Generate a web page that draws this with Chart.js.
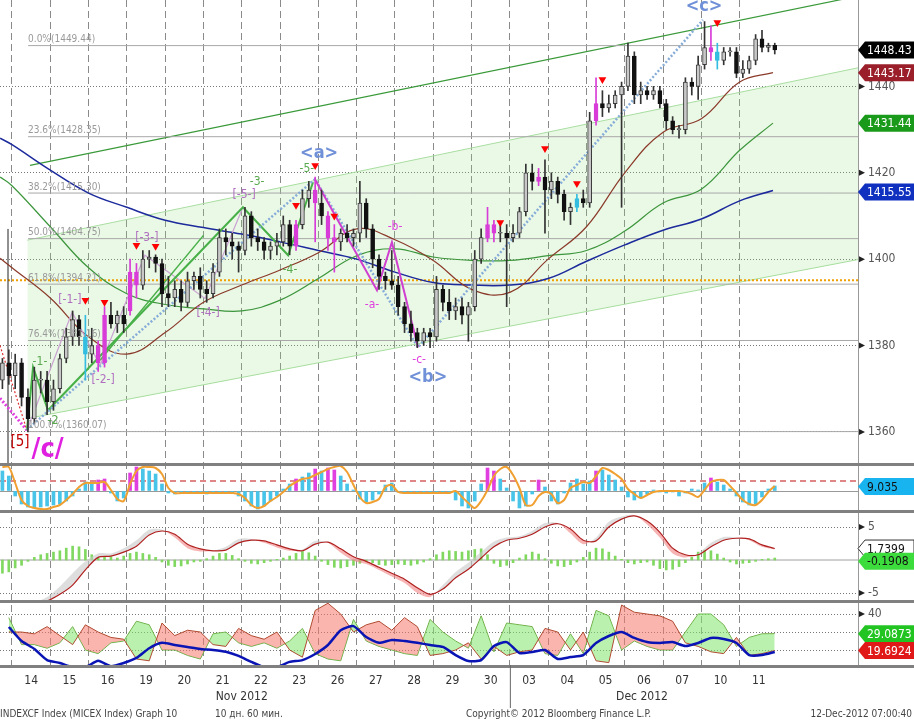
<!DOCTYPE html>
<html>
<head>
<meta charset="utf-8">
<script src="https://cdn.jsdelivr.net/npm/chart.js@4.4.1/dist/chart.umd.min.js"></script>
<style>
  html, body { margin: 0; padding: 0; background: #fff; }
  #wrap { position: relative; width: 914px; height: 723px; }
</style>
</head>
<body>
<div id="wrap"><canvas id="chart" width="914" height="723"></canvas></div>
<script>
const FONT = '"DejaVu Sans Condensed", "Liberation Sans Narrow", "DejaVu Sans", sans-serif';

// --- data, 13 Nov - 11 Dec 2012 ---
const dayLabels = ['14','15','16','19','20','21','22','23','26','27','28','29','30','03','04','05','06','07','10','11'];
const monthLabels = ['Nov 2012', 'Dec 2012'];
const monthCenters = [6.0, 16.45];
const barsPerDay = 6;
const leadBars = 2; // last bars of 13 Nov at the left edge

const opens = [1372,1376,
  1373,1376,1368,1363,1372,1372, 1367,1370,1377,1382,1386,1382, 1378,1380,1376,1387,1385,1387,
  1388,1397,1394,1400,1400.5,1399, 1392,1391,1393,1390,1395,1396, 1393,1392,1397,1405,1404,1403,
  1402,1410,1405,1404,1402,1403, 1404,1408,1403,1408,1414,1416, 1413,1410,1405,1404,1406,1405,
  1406,1413,1407,1400,1396,1395, 1394,1389,1385,1383,1381,1383, 1382,1393,1390,1388,1389,1387,
  1389,1400,1405,1408,1406,1406, 1405,1406,1411,1420,1418,1419, 1416,1418,1415,1411,1412,1414,
  1413,1432,1436,1435,1436,1438, 1440,1447,1438,1439,1438,1439, 1436,1432,1430,1430,1441,1440,
  1445,1449,1448,1446,1448,1448, 1443,1444,1446,1451,1449,1449.5];
const highs = [1377,1379,
  1378,1377,1370,1375,1374,1374, 1372,1378,1384,1388,1387,1387, 1384,1381,1389,1390,1388,1389,
  1400,1399,1402,1402,1401,1400, 1396,1395,1395,1397,1397,1398, 1395,1399,1407,1407,1406,1404,
  1412,1411,1407,1405,1404,1406, 1410,1409,1409,1416,1418,1419, 1416,1411,1408,1407,1408,1407,
  1418,1414,1408,1401,1397,1402, 1396,1390,1388,1384,1384,1384, 1396,1394,1393,1391,1391,1390,
  1402,1407,1412,1409,1408,1408, 1408,1412,1422,1422,1421,1423, 1420,1419,1416,1413,1415,1416,
  1434,1442,1439,1438,1439,1441, 1450,1448,1441,1440,1440,1440, 1437,1433,1431,1442,1442,1447,
  1455,1454,1450,1449,1449,1449, 1446,1447,1452,1453,1450,1450];
const lows = [1370,1371,
  1370,1366,1360,1362,1369,1364, 1365,1369,1376,1380,1380,1372, 1376,1374,1375,1384,1383,1383,
  1387,1391,1393,1398,1397,1389, 1389,1389,1388,1389,1393,1391, 1390,1391,1396,1401,1400,1397,
  1401,1403,1402,1400,1400,1401, 1403,1401,1402,1407,1412,1404, 1408,1402,1397,1402,1404,1403,
  1404,1405,1398,1393,1393,1393, 1387,1383,1381,1379.5,1380,1379.5, 1381,1388,1386,1386,1385,1381,
  1388,1399,1404,1404,1404,1389, 1404,1405,1410,1416,1417,1406, 1414,1413,1409,1408,1411,1412,
  1412,1431,1433,1434,1435,1412, 1439,1436,1436,1437,1437,1435, 1430,1429,1428,1429,1438,1437,
  1444,1446,1444,1445,1447,1442, 1442,1443,1445,1448,1448,1447.5];
const closes = [1376,1373,
  1376,1368,1363,1372,1372,1367, 1370,1377,1382,1386,1382,1378, 1380,1376,1387,1385,1387,1385,
  1397,1394,1400,1400.5,1399,1392, 1391,1393,1390,1395,1396,1393, 1392,1397,1405,1404,1403,1402,
  1410,1405,1404,1402,1403,1404, 1408,1403,1408,1414,1416,1413, 1410,1405,1404,1406,1405,1406,
  1413,1407,1400,1396,1395,1394, 1389,1385,1383,1381,1383,1382, 1393,1390,1388,1389,1387,1389,
  1400,1405,1408,1406,1406,1405, 1406,1411,1420,1418,1419,1416, 1418,1415,1411,1412,1414,1413,
  1432,1436,1435,1436,1438,1440, 1447,1438,1439,1438,1439,1436, 1432,1430,1430,1441,1440,1445,
  1449,1448,1446,1448,1448,1443, 1444,1446,1451,1449,1449.5,1448.43];

const magentaBars = [15,16,20,21,46,49,51,52,76,77,84,93,111];
const cyanBars = [13,90,112];
const signalBars = [13,16,21,24,46,49,52,78,85,90,94,112];
const signalPrices = [1390.5,1390,1403.2,1403,1412.5,1421.7,1410,1408.5,1425.6,1417.5,1441.6,1454.8];

// moving averages, sampled once a day
const maDays = [-0.31,0,1,2,3,4,5,6,7,8,9,10,11,12,13,14,15,16,17,18,19,19.87];
const maShort = [1400.2,1398,1391,1382,1378,1383,1390,1394,1397.5,1401.5,1407,1404.5,1399.7,1393,1392.3,1400,1407.5,1420,1429.4,1432.5,1441,1443.2];
const maMid = [1419,1417,1407.5,1398,1392,1389.5,1388.5,1388,1390.5,1395.5,1400.8,1402.4,1400.5,1399.7,1399.7,1400.8,1402,1406.5,1413,1416.2,1425.2,1431.5];
const maLong = [1428,1426.5,1420.6,1415.3,1412,1409,1407.3,1405.8,1404,1402,1400,1397,1394.6,1394,1394,1395.5,1399.5,1403.3,1406.7,1409.3,1413.5,1415.9];

const fibPcts = ['0.0%','23.6%','38.2%','50.0%','61.8%','76.4%','100.0%'];
const fibLevels = [1449.44,1428.35,1415.30,1404.75,1394.21,1381.16,1360.07];
const pivotLevel = 1395.1;

// wave drawings, [day, price]
const waveABC = [[7.91,1418.5],[9.53,1392.8],[9.92,1403.9],[10.6,1379.6]];
const waveBig = [[0.39,1360.5],[7.91,1418.5],[10.6,1379.6],[18.04,1455.4]];
const waveGreen = [[0.39,1360.4],[0.55,1375],[0.94,1365],[6.03,1412],[7.21,1400.9],[7.86,1417.8]];
const waveGreenPar = [[2.3,1376.6],[5.0,1405.5]];
const waveSub = [[0.39,1360.4],[1.57,1387.7],[2.3,1375.4],[3.47,1400.9],[5.04,1390.9],[6.03,1412]];
const leftRed = [[-0.313,1380],[0.39,1360.4]];
const leftMagenta = [[-0.313,1367.8],[0.39,1360.4]];
const channelTop = [[0.47,1421.7],[22.09,1460.9]];
const channelHi = [[0.4,1404.4],[22.09,1444.3]];
const channelLo = [[0.4,1363.1],[22.09,1399.9]];

// oscillator panel (per bar)
const oscHist = [40,30,-10,-26,-32,-34,-32,-30,-28,-26, -20,-10,4,18,16,22,24,-4,-20,-14,
  36,48,44,40,34,14,-4,-6,-4,-2, -4,-2,-6,-4,-2,-2,-4,-10,-20,-30,
  -36,-30,-20,-10,4,14,24,28,36,44, 40,46,42,30,14,2,-16,-22,-18,-6,
  12,16,-2,-4,-2,-2,-4,-2,-2,-4, -4,-18,-30,-34,-20,14,46,40,24,6,
  -20,-34,-30,-6,22,8,-20,-26,-4,16, 24,14,20,40,42,32,22,8,-12,-18,
  -14,-6,2,-2,-4,-2,-10,-4,4,2, 16,26,18,12,4,-10,-22,-28,-26,-12, 4,10];
const oscLine = [48,48,16,-18,-30,-34,-36,-36,-32,-28, -18,-6,8,16,16,16,18,2,-16,-20,
  14,40,48,48,46,34,6,-4,-4,-4, -4,-4,-4,-4,-4,-4,-4,-6,-14,-28,
  -34,-30,-20,-12,-2,10,18,24,26,32, 38,44,48,50,38,12,-12,-24,-22,-16,
  8,12,-2,-4,-4,-4,-4,-4,-4,-4, -4,0,-12,-24,-34,-20,2,30,44,48,
  32,6,-28,-28,-10,-2,-6,-24,-18,6, 12,18,16,30,46,42,34,24,4,-6,
  -14,-8,-2,0,0,0,0,-2,-6,-12, 2,18,22,22,10,-4,-18,-26,-28,-18, -2,10];
const oscLevel = 20;

// MACD panel
const macdHist = [-2.0,-1.8,-1.2,-0.8,-0.2,0.4,0.8,1.0,1.2,1.4, 1.8,2.1,2.0,1.6,0.8,0.3,0.4,0.5,0.3,0.6,
  1.0,1.2,1.0,0.8,0.4,-0.3,-0.8,-1.0,-0.9,-0.6, -0.3,-0.2,0.2,0.6,1.0,1.0,0.7,0.2,-0.2,-0.5,
  -0.6,-0.4,-0.2,0.1,0.3,0.6,1.0,1.3,1.1,0.6, -0.2,-0.7,-1.1,-1.2,-1.0,-0.8,-0.5,-0.2,-0.4,-0.7,
  -0.8,-0.7,-0.6,-0.7,-0.8,-0.6,-0.3,0.2,0.8,1.2, 1.4,1.3,1.2,1.4,1.6,1.7,0.8,-0.5,-1.0,-0.8,
  -0.4,0.3,0.8,1.2,0.9,0.2,-0.5,-0.9,-1.0,-0.7, -0.3,0.4,1.2,1.8,1.7,1.2,0.6,0.1,-0.4,-0.6,
  -0.4,-0.3,-0.8,-1.3,-1.5,-1.4,-1.0,-0.4,0.4,1.2, 1.5,1.4,0.9,0.3,-0.3,-0.6,-0.5,-0.4,-0.2,0.1, 0.2,0.3];
// lines below are sampled every second bar
const macdLine = [-6.4,-6.4,-6.4,-6.2,-5.2,-3.8,-1.5,0.4,0.6,1.2, 2.1,3.8,4.4,3.9,2.4,1.7,1.4,1.5,2.6,3.0,
  2.9,2.3,1.7,1.4,2.4,2.7,1.7,0.5,-0.2,-1.1, -2.0,-2.9,-4.2,-5.2,-4.4,-2.7,-1.4,0.3,2.0,3.0,
  3.3,3.9,5.0,5.5,4.7,3.0,2.9,5.0,6.2,6.7, 5.9,4.2,1.8,0.8,0.8,2.0,3.0,3.3,3.2,2.3, 1.74];
const macdFast = [-6.4,-6.4,-6.4,-5.6,-4.0,-2.0,-0.2,1.0,1.0,1.8, 3.0,4.6,4.6,3.4,1.8,1.3,1.4,2.0,3.2,3.2,
  2.6,1.9,1.4,1.6,2.9,2.6,1.1,-0.1,-0.6,-1.5, -2.5,-3.5,-5.0,-5.6,-3.8,-1.8,-0.4,1.2,2.8,3.4,
  3.6,4.4,5.6,5.6,4.0,2.4,3.4,5.8,6.6,6.8, 5.4,3.4,1.0,0.4,1.0,2.6,3.5,3.4,3.0,2.0, 1.6];

// DMI panel
const dmiMinus = [30,30,29,33,28,23,34,30,27,26, 15,14,35,28,31,30,23,22,32,28,
  26,30,20,16,42,46,40,30,34,36, 31,38,33,17,18,20,24,15,22,17,
  19,20,32,30,20,30,14,13,45,41, 40,39,36,24,22,19,18,27,17,18, 19.69];
const dmiPlus = [38,23,23,21,24,33,20,18,24,25, 36,34,20,20,17,15,29,30,24,22,
  24,21,25,32,18,15,14,37,25,22, 20,18,17,37,30,25,21,39,19,35,
  34,33,18,17,29,18,42,39,20,25, 22,20,20,30,40,40,34,22,27,29, 29.09];
const adx = [32.8,25,20.6,14.4,12.8,10.5,10.5,14,11,12.8, 15.6,21,24,22.8,21.7,20.6,20,19,16.7,13.4,
  10.5,10.5,13.4,14.4,17.8,22.8,31,33.3,27.2,24, 25.6,25,24,22.8,21.7,17.2,13.9,14.4,22.2,24.4,
  18.3,18.9,20,15,16.1,17.2,23.9,27.8,30,26.7, 24.4,23.9,24.4,22.2,23.9,26.7,26.1,23.9,17.2,17.2, 18.9];

const priceTags = [1448.43, 1443.17, 1431.44, 1415.55];
const oscTag = 9.035;
const macdTags = [1.7399, -0.1908];
const dmiTags = [29.0873, 19.6924];

// --- chart ---
const X_MIN = -0.313, X_MAX = 22.09;
const barX = k => (k - leadBars + 0.5) / barsPerDay;
const lineX = j => barX(2 * j + 1);

const waveLabels = [
  { t: '[5]', d: 0.21, p: 1357.6, c: '#c00000', f: '15px ' + FONT },
  { t: '/c/', d: 0.93, p: 1355.7, c: '#e020e0', f: 'bold 27px ' + FONT },
  { t: '-1-', d: 0.73, p: 1376.1, c: '#5aaa50', f: '12px ' + FONT },
  { t: '-2', d: 1.07, p: 1362.7, c: '#5aaa50', f: '13px ' + FONT },
  { t: '[-1-]', d: 1.51, p: 1390.5, c: '#b070c0', f: '12px ' + FONT },
  { t: '[-2-]', d: 2.38, p: 1372, c: '#b070c0', f: '12px ' + FONT },
  { t: '[-3-]', d: 3.52, p: 1405, c: '#b070c0', f: '12px ' + FONT },
  { t: '[-4-]', d: 5.12, p: 1387.5, c: '#b070c0', f: '12px ' + FONT },
  { t: '[-5-]', d: 6.06, p: 1414.8, c: '#b070c0', f: '12px ' + FONT },
  { t: '-3-', d: 6.4, p: 1417.8, c: '#5aaa50', f: '12px ' + FONT },
  { t: '-4-', d: 7.26, p: 1397.4, c: '#5aaa50', f: '12px ' + FONT },
  { t: '-5-', d: 7.7, p: 1421, c: '#5aaa50', f: '12px ' + FONT },
  { t: '<a>', d: 8.02, p: 1424.5, c: '#7090d8', f: 'bold 18px ' + FONT },
  { t: '-a-', d: 9.4, p: 1389.3, c: '#e040e0', f: '12px ' + FONT },
  { t: '-b-', d: 10.0, p: 1407.4, c: '#e040e0', f: '12px ' + FONT },
  { t: '-c-', d: 10.63, p: 1376.6, c: '#e040e0', f: '12px ' + FONT },
  { t: '<b>', d: 10.86, p: 1372.6, c: '#7090d8', f: 'bold 18px ' + FONT },
  { t: '<c>', d: 18.07, p: 1458.5, c: '#7090d8', f: 'bold 18px ' + FONT }
];

function pts(list) { return list.map(p => ({ x: p[0], y: p[1] })); }
function lineDs(data, color, width, dash, yAxisID, extra) {
  return Object.assign({ type: 'line', data, borderColor: color, borderWidth: width,
    borderDash: dash || [], pointRadius: 0, fill: false, tension: 0, yAxisID }, extra || {});
}
function hline(y, color, width, dash, yAxisID, x0) {
  return lineDs([{ x: x0 === undefined ? X_MIN : x0, y }, { x: X_MAX, y }], color, width, dash, yAxisID);
}

const candleIdx = closes.map((c, k) => k);
const barColor = k => magentaBars.includes(k) ? '#d83cd8' : cyanBars.includes(k) ? '#33bde0' : null;

const datasets = [];
datasets.push({
  type: 'line', yAxisID: 'yMain', showLine: false,
  data: signalBars.map((k, i) => ({ x: barX(k), y: signalPrices[i] })),
  pointStyle: 'triangle', rotation: 180, pointRadius: 4.5, borderWidth: 0,
  pointBackgroundColor: '#ff0000', backgroundColor: '#ff0000'
});
datasets.push({
  type: 'bar', yAxisID: 'yMain', grouped: false, barThickness: 4, minBarLength: 1, borderSkipped: false,
  data: candleIdx.map(k => ({ x: barX(k), y: [Math.min(opens[k], closes[k]), Math.max(opens[k], closes[k])] })),
  backgroundColor: candleIdx.map(k => barColor(k) || (closes[k] >= opens[k] ? '#c8c8c8' : '#111')),
  borderColor: candleIdx.map(k => barColor(k) || (closes[k] >= opens[k] ? '#3a3a3a' : '#111')),
  borderWidth: 1
});
datasets.push({
  type: 'bar', yAxisID: 'yMain', grouped: false, barThickness: 1, borderSkipped: false,
  data: candleIdx.map(k => ({ x: barX(k), y: [lows[k], highs[k]] })),
  backgroundColor: candleIdx.map(k => barColor(k) || '#333')
});
datasets.push(lineDs(pts(waveABC), '#d040d0', 2, [], 'yMain'));
datasets.push(lineDs(pts(waveBig), '#86acd8', 2.5, [2, 2], 'yMain'));
datasets.push(lineDs(pts(waveGreen), '#48b048', 2, [], 'yMain'));
datasets.push(lineDs(pts(waveGreenPar), '#48b048', 1.5, [], 'yMain'));
datasets.push(lineDs(pts(waveSub), '#caa2d2', 1.2, [], 'yMain'));
datasets.push(lineDs(pts(leftRed), '#e03030', 1.2, [2, 2], 'yMain'));
datasets.push(lineDs(pts(leftMagenta), '#e040e0', 3, [2, 2], 'yMain'));
datasets.push(lineDs(maDays.map((d, i) => ({ x: d, y: maShort[i] })), '#8b3a2a', 1.2, [], 'yMain', { tension: 0.4 }));
datasets.push(lineDs(maDays.map((d, i) => ({ x: d, y: maMid[i] })), '#3c963c', 1.2, [], 'yMain', { tension: 0.4 }));
datasets.push(lineDs(maDays.map((d, i) => ({ x: d, y: maLong[i] })), '#1c2a9c', 1.5, [], 'yMain', { tension: 0.4 }));
datasets.push(lineDs([{ x: -0.104, y: 1352.8 }, { x: -0.104, y: 1407 }], '#222', 1, [], 'yMain'));
datasets.push(hline(pivotLevel, '#f0a000', 2, [2, 2], 'yMain'));
fibLevels.forEach(v => datasets.push(hline(v, '#a8a8a8', 1, [], 'yMain', 0.42)));
datasets.push(lineDs(pts(channelTop), '#3a9a3a', 1.2, [], 'yMain'));
const chHi = lineDs(pts(channelHi), '#a8dea0', 1, [], 'yMain');
const chLo = lineDs(pts(channelLo), '#a8dea0', 1, [], 'yMain');
datasets.push(chHi, chLo);
chHi.fill = { target: datasets.indexOf(chLo), above: 'rgba(150,220,130,0.2)', below: 'rgba(150,220,130,0.2)' };

// oscillator
datasets.push(lineDs(oscLine.map((v, k) => ({ x: barX(k), y: v })), '#f0a030', 2, [], 'yOsc', { tension: 0.3 }));
datasets.push({
  type: 'bar', yAxisID: 'yOsc', grouped: false, barThickness: 3,
  data: oscHist.map((v, k) => ({ x: barX(k), y: v })),
  backgroundColor: oscHist.map((v, k) => magentaBars.includes(k) ? '#e040e0' : '#48c4e8')
});
datasets.push(hline(oscLevel, '#c01010', 1.2, [6, 4], 'yOsc'));

// macd
const mLine = lineDs(macdLine.map((v, j) => ({ x: lineX(j), y: v })), '#b02020', 1.2, [], 'yMacd', { tension: 0.3 });
const mFast = lineDs(macdFast.map((v, j) => ({ x: lineX(j), y: v })), 'rgba(0,0,0,0)', 0, [], 'yMacd', { tension: 0.3 });
datasets.push(mLine, mFast);
mFast.fill = { target: datasets.indexOf(mLine), above: 'rgba(200,200,200,0.6)', below: 'rgba(240,130,130,0.6)' };
datasets.push({
  type: 'bar', yAxisID: 'yMacd', grouped: false, barThickness: 2,
  data: macdHist.map((v, k) => ({ x: barX(k), y: v })),
  backgroundColor: '#80d860'
});
datasets.push(hline(0, '#a0a0a0', 1, [], 'yMacd'));

// dmi
datasets.push(lineDs(adx.map((v, j) => ({ x: lineX(j), y: v })), '#0a14b4', 2.5, [], 'yDmi', { tension: 0.2 }));
const dMinus = lineDs(dmiMinus.map((v, j) => ({ x: lineX(j), y: v })), '#b04a30', 1, [], 'yDmi');
const dPlus = lineDs(dmiPlus.map((v, j) => ({ x: lineX(j), y: v })), '#60b040', 1, [], 'yDmi');
datasets.push(dMinus, dPlus);
dMinus.fill = { target: datasets.indexOf(dPlus), above: 'rgba(245,120,110,0.55)', below: 'rgba(130,230,110,0.55)' };

const numLabel = v => String(v);
const noPad = s => { s.paddingTop = 0; s.paddingBottom = 0; s.paddingLeft = 0; s.paddingRight = 0; };
const yWidth = s => { s.width = 56; noPad(s); };
const tickFont = { size: 12, family: FONT };

const panelClip = {
  id: 'panelClip',
  beforeDatasetDraw(chart, args) {
    const ys = chart.scales[args.meta.yAxisID];
    const a = chart.chartArea;
    chart.ctx.save();
    chart.ctx.beginPath();
    chart.ctx.rect(a.left, ys.top, a.right - a.left, ys.bottom - ys.top);
    chart.ctx.clip();
  },
  afterDatasetDraw(chart) { chart.ctx.restore(); }
};

function tag(ctx, y, text, bg, fg, edge) {
  const x0 = 858, h = 17;
  ctx.beginPath();
  ctx.moveTo(x0, y);
  ctx.lineTo(x0 + 7, y - h / 2);
  ctx.lineTo(914, y - h / 2);
  ctx.lineTo(914, y + h / 2);
  ctx.lineTo(x0 + 7, y + h / 2);
  ctx.closePath();
  ctx.fillStyle = bg;
  ctx.fill();
  if (edge) { ctx.strokeStyle = edge; ctx.lineWidth = 1; ctx.stroke(); }
  ctx.fillStyle = fg;
  ctx.font = '12px ' + FONT;
  ctx.textAlign = 'left';
  ctx.textBaseline = 'middle';
  ctx.fillText(text, x0 + 9, y + 1);
}

const decor = {
  id: 'decor',
  afterDatasetsDraw(chart) {
    const ctx = chart.ctx, xs = chart.scales.x, ym = chart.scales.yMain;
    ctx.save();
    // fib labels
    ctx.font = '10px ' + FONT;
    ctx.fillStyle = '#9a9a9a';
    ctx.textAlign = 'left';
    ctx.textBaseline = 'bottom';
    fibLevels.forEach((v, i) => {
      ctx.fillText(fibPcts[i] + '(' + v.toFixed(2) + ')', xs.getPixelForValue(0.42), ym.getPixelForValue(v) - 1);
    });
    ctx.textAlign = 'center';
    ctx.textBaseline = 'middle';
    waveLabels.forEach(l => {
      ctx.font = l.f;
      ctx.fillStyle = l.c;
      ctx.fillText(l.t, xs.getPixelForValue(l.d), ym.getPixelForValue(l.p));
    });
    ctx.restore();
  },
  afterDraw(chart) {
    const ctx = chart.ctx, s = chart.scales;
    ctx.save();
    // panel separators
    ctx.fillStyle = '#808080';
    [s.yOsc.top, s.yMacd.top, s.yDmi.top, s.yDmi.bottom].forEach(t => ctx.fillRect(0, t, 914, 3));
    // tick arrows
    ctx.fillStyle = '#222';
    ['yMain', 'yMacd', 'yDmi'].forEach(id => {
      s[id].ticks.forEach(t => {
        if (!t.label) return;
        const y = s[id].getPixelForValue(t.value);
        ctx.beginPath();
        ctx.moveTo(859, y - 3); ctx.lineTo(865, y); ctx.lineTo(859, y + 3);
        ctx.closePath(); ctx.fill();
      });
    });
    // value tags
    const tagColors = [['#000', '#fff'], ['#9a1f2a', '#fff'], ['#1a9a1a', '#fff'], ['#1030c0', '#fff']];
    priceTags.forEach((v, i) => tag(ctx, s.yMain.getPixelForValue(v), v.toFixed(2), tagColors[i][0], tagColors[i][1]));
    tag(ctx, s.yOsc.getPixelForValue(oscTag), String(oscTag), '#18b4f0', '#111');
    tag(ctx, s.yMacd.getPixelForValue(macdTags[0]), String(macdTags[0]), '#fff', '#111', '#333');
    tag(ctx, s.yMacd.getPixelForValue(macdTags[1]), String(macdTags[1]), '#3ddc3d', '#111');
    tag(ctx, s.yDmi.getPixelForValue(dmiTags[0]), String(dmiTags[0]), '#22c422', '#fff');
    tag(ctx, s.yDmi.getPixelForValue(dmiTags[1]), String(dmiTags[1]), '#e01818', '#fff');
    // month separator under the axis
    const xm = s.x.getPixelForValue(13);
    ctx.strokeStyle = '#666';
    ctx.lineWidth = 1;
    ctx.beginPath(); ctx.moveTo(xm + 0.5, s.yDmi.bottom); ctx.lineTo(xm + 0.5, 708); ctx.stroke();
    // footer
    ctx.font = '10px ' + FONT;
    ctx.fillStyle = '#444';
    ctx.textBaseline = 'middle';
    ctx.textAlign = 'left';
    ctx.fillText('INDEXCF Index (MICEX Index) Graph 10', 0, 714);
    ctx.fillText('10 дн. 60 мин.', 215, 714);
    ctx.fillText('Copyright\u00a9 2012 Bloomberg Finance L.P.', 466, 714);
    ctx.textAlign = 'right';
    ctx.fillText('12-Dec-2012 07:00:40', 912, 714);
    ctx.restore();
  }
};

Chart.defaults.font.family = FONT;
Chart.defaults.color = '#444';

new Chart(document.getElementById('chart'), {
  type: 'line',
  data: { datasets },
  options: {
    responsive: false,
    devicePixelRatio: 1,
    animation: false,
    events: [],
    layout: { padding: 0, autoPadding: false },
    plugins: { legend: { display: false }, tooltip: { enabled: false } },
    scales: {
      x: {
        type: 'linear', axis: 'x', position: 'bottom', min: X_MIN, max: X_MAX, offset: false,
        afterBuildTicks: s => { s.ticks = dayLabels.map((d, i) => ({ value: i })); },
        ticks: { display: false },
        grid: { color: '#8a8a8a', lineWidth: 1, drawTicks: false, offset: false },
        border: { display: false, dash: [7, 4] },
        afterFit: s => { s.height = 0; noPad(s); }
      },
      xLab: {
        type: 'linear', axis: 'x', position: 'bottom', min: X_MIN, max: X_MAX, offset: false,
        afterBuildTicks: s => { s.ticks = dayLabels.map((d, i) => ({ value: i + 0.5 })); },
        ticks: { autoSkip: false, maxRotation: 0, padding: 9, color: '#333', font: tickFont,
          callback: (v, i) => dayLabels[i] },
        grid: { display: false, drawTicks: false },
        border: { display: false },
        afterFit: s => { s.height = 23; noPad(s); }
      },
      xMonth: {
        type: 'linear', axis: 'x', position: 'bottom', min: X_MIN, max: X_MAX, offset: false,
        afterBuildTicks: s => { s.ticks = monthCenters.map(v => ({ value: v })); },
        ticks: { autoSkip: false, maxRotation: 0, padding: 2, color: '#333', font: tickFont,
          callback: (v, i) => monthLabels[i] },
        grid: { display: false, drawTicks: false },
        border: { display: false },
        afterFit: s => { s.height = 35; noPad(s); }
      },
      yMain: {
        type: 'linear', axis: 'y', position: 'right', stack: 'panes', stackWeight: 463,
        min: 1352.8, max: 1460,
        afterBuildTicks: s => { s.ticks = [1360, 1380, 1400, 1420, 1440].map(v => ({ value: v })); },
        ticks: { padding: 10, color: '#555', font: tickFont, callback: numLabel },
        grid: { color: '#777', drawTicks: false },
        border: { display: true, color: '#999', dash: [1, 2] },
        afterFit: yWidth
      },
      yOsc: {
        type: 'linear', axis: 'y', position: 'right', stack: 'panes', stackWeight: 47,
        min: -38, max: 56,
        afterBuildTicks: s => { s.ticks = [{ value: 0 }]; },
        ticks: { display: false },
        grid: { color: '#999', drawTicks: false },
        border: { display: true, color: '#999' },
        afterFit: yWidth
      },
      yMacd: {
        type: 'linear', axis: 'y', position: 'right', stack: 'panes', stackWeight: 90,
        min: -6.06, max: 7.58,
        afterBuildTicks: s => { s.ticks = [-5, 5].map(v => ({ value: v })); },
        ticks: { padding: 10, color: '#555', font: tickFont, callback: numLabel },
        grid: { color: '#777', drawTicks: false },
        border: { display: true, color: '#999', dash: [1, 2] },
        afterFit: yWidth
      },
      yDmi: {
        type: 'linear', axis: 'y', position: 'right', stack: 'panes', stackWeight: 65,
        min: 11.67, max: 47.8,
        afterBuildTicks: s => { s.ticks = [20, 30, 40].map(v => ({ value: v })); },
        ticks: { padding: 10, color: '#555', font: tickFont, callback: v => (v === 40 ? '40' : '') },
        grid: { color: '#777', drawTicks: false },
        border: { display: true, color: '#999', dash: [1, 2] },
        afterFit: yWidth
      }
    }
  },
  plugins: [panelClip, decor]
});
</script>
</body>
</html>
